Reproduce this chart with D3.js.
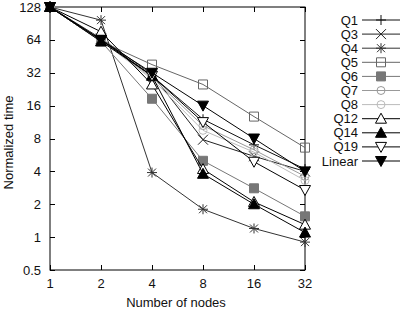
<!DOCTYPE html>
<html>
<head>
<meta charset="utf-8">
<script src="https://cdn.jsdelivr.net/npm/d3@7"></script>
<style>
  body { margin: 0; background: #fff; }
  text { font-family: "Liberation Sans", Arial, sans-serif; font-size: 13px; fill: #111; }
</style>
</head>
<body>
<div id="chart"></div>
<script>
// data
const nodes = [1, 2, 4, 8, 16, 32];
const yTicks = [0.5, 1, 2, 4, 8, 16, 32, 64, 128];
const seriesNames = ["Q1", "Q3", "Q4", "Q5", "Q6", "Q7", "Q8", "Q12", "Q14", "Q19", "Linear"];
const q1 = [128, 64, 30, 12, 7, 4.2];
const q3 = [128, 66, 31, 7.8, 5.5, 4.0];
const q4 = [128, 97, 3.9, 1.8, 1.2, 0.9];
const q5 = [128, 62, 38, 25, 12.7, 6.6];
const q6 = [128, 62, 18.5, 5.0, 2.8, 1.55];
const q7 = [128, 63, 29, 10.5, 6.3, 3.6];
const q8 = [128, 63, 28, 9.5, 6.0, 3.3];
const q12 = [128, 76, 25, 4.2, 2.1, 1.3];
const q14 = [128, 62, 30, 3.8, 2.0, 1.1];
const q19 = [128, 64, 30, 11.3, 4.9, 2.7];
const linear = [128, 64, 32, 16, 8, 4];

const seriesValues = [q1, q3, q4, q5, q6, q7, q8, q12, q14, q19, linear];
const style = {
    Q1: { color: "#111", sym: "plus" },
    Q3: { color: "#222", sym: "cross" },
    Q4: { color: "#333", sym: "star" },
    Q5: { color: "#666", sym: "square", fill: "none" },
    Q6: { color: "#777", sym: "square", fill: "#777" },
    Q7: { color: "#999", sym: "circle", fill: "none" },
    Q8: { color: "#bbb", sym: "circle", fill: "none" },
    Q12: { color: "#000", sym: "triUp", fill: "#fff" },
    Q14: { color: "#000", sym: "triUp", fill: "#000" },
    Q19: { color: "#000", sym: "triDown", fill: "#fff" },
    Linear: { color: "#000", sym: "triDown", fill: "#000" }
};

const width = 400, height = 312;
const margin = { top: 7, right: 95, bottom: 42, left: 50 };
const plotW = width - margin.left - margin.right;
const plotH = height - margin.top - margin.bottom;

const svg = d3.select("#chart").append("svg")
    .attr("width", width)
    .attr("height", height);

const x = d3.scaleLog().base(2).domain([1, 32]).range([margin.left, margin.left + plotW]);
const y = d3.scaleLog().base(2).domain([0.5, 128]).range([margin.top + plotH, margin.top]);

const tickLen = 5;
const g = svg.append("g");

// frame
g.append("rect")
    .attr("x", margin.left).attr("y", margin.top)
    .attr("width", plotW).attr("height", plotH)
    .attr("fill", "none").attr("stroke", "#000").attr("stroke-width", 1);

// y ticks (left + mirrored right)
yTicks.forEach(t => {
    const yy = Math.round(y(t)) + 0.5;
    g.append("line").attr("x1", margin.left).attr("x2", margin.left + tickLen)
        .attr("y1", yy).attr("y2", yy).attr("stroke", "#000");
    g.append("line").attr("x1", margin.left + plotW - tickLen).attr("x2", margin.left + plotW)
        .attr("y1", yy).attr("y2", yy).attr("stroke", "#000");
    g.append("text").attr("x", margin.left - 9).attr("y", y(t)).attr("dy", "0.35em")
        .attr("text-anchor", "end").text(t);
});

// x ticks (bottom + mirrored top)
nodes.forEach(t => {
    const xx = Math.round(x(t)) + 0.5;
    g.append("line").attr("x1", xx).attr("x2", xx)
        .attr("y1", margin.top + plotH).attr("y2", margin.top + plotH - tickLen).attr("stroke", "#000");
    g.append("line").attr("x1", xx).attr("x2", xx)
        .attr("y1", margin.top).attr("y2", margin.top + tickLen).attr("stroke", "#000");
    g.append("text").attr("x", x(t)).attr("y", margin.top + plotH + 18)
        .attr("text-anchor", "middle").text(t);
});

// axis titles
svg.append("text")
    .attr("transform", `translate(13,${margin.top + plotH / 2 + 4}) rotate(-90)`)
    .attr("text-anchor", "middle").text("Normalized time");
svg.append("text")
    .attr("x", 176).attr("y", height - 5)
    .attr("text-anchor", "middle").text("Number of nodes");

function symbolPath(sym) {
    const s = 5;
    switch (sym) {
        case "plus": return `M${-s},0H${s}M0,${-s}V${s}`;
        case "cross": return `M${-s},${-s}L${s},${s}M${-s},${s}L${s},${-s}`;
        case "star": return `M${-s},0H${s}M0,${-s}V${s}M${-s * 0.8},${-s * 0.8}L${s * 0.8},${s * 0.8}M${-s * 0.8},${s * 0.8}L${s * 0.8},${-s * 0.8}`;
        case "square": return `M${-4.5},${-4.5}H4.5V4.5H-4.5Z`;
        case "circle": return d3.symbol(d3.symbolCircle, 50)();
        case "triUp": return `M0,${-5.5}L5.5,4.5H-5.5Z`;
        case "triDown": return `M0,5.5L5.5,-4.5H-5.5Z`;
    }
}

function drawMarker(sel, name, cx, cy) {
    const st = style[name];
    const closed = ["square", "circle", "triUp", "triDown"].includes(st.sym);
    sel.append("path")
        .attr("transform", `translate(${cx},${cy})`)
        .attr("d", symbolPath(st.sym))
        .attr("fill", closed ? st.fill : "none")
        .attr("stroke", st.color)
        .attr("stroke-width", 1);
}

const line = d3.line().x(d => x(d[0])).y(d => y(d[1]));

seriesNames.forEach((name, i) => {
    const pts = nodes.map((n, j) => [n, seriesValues[i][j]]);
    const sg = g.append("g");
    sg.append("path").attr("d", line(pts))
        .attr("fill", "none").attr("stroke", style[name].color).attr("stroke-width", 1);
    pts.forEach(p => drawMarker(sg, name, x(p[0]), y(p[1])));
});

// legend
const legend = svg.append("g");
seriesNames.forEach((name, i) => {
    const ly = 20 + i * 14.1;
    legend.append("text").attr("x", 358).attr("y", ly).attr("dy", "0.35em")
        .attr("text-anchor", "end").text(name);
    legend.append("line").attr("x1", 362).attr("x2", 400)
        .attr("y1", ly).attr("y2", ly).attr("stroke", style[name].color);
    drawMarker(legend, name, 381, ly);
});
</script>
</body>
</html>
